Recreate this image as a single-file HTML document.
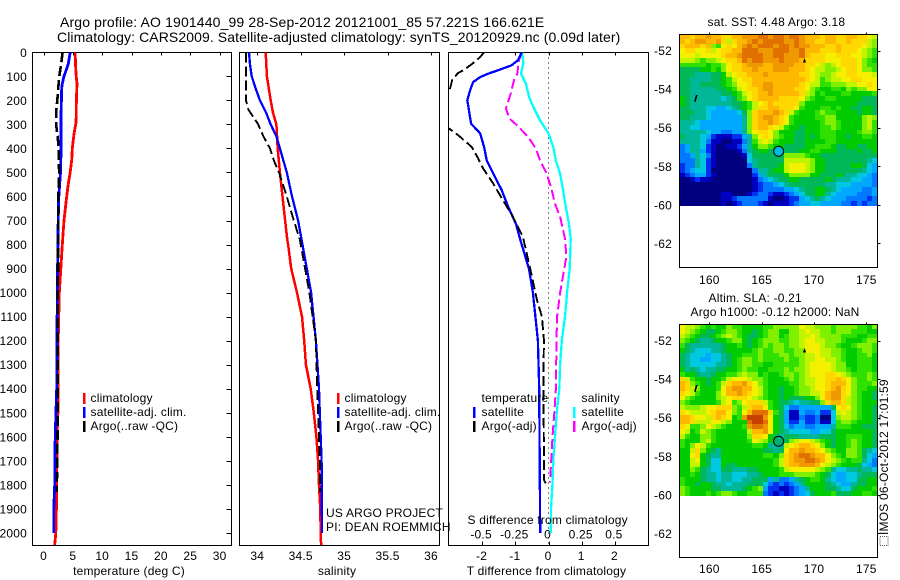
<!DOCTYPE html>
<html lang="en">
<head>
<meta charset="utf-8">
<title>Argo profile 1901440_99</title>
<style>
html,body{margin:0;padding:0;background:#fff;}
body{width:900px;height:580px;overflow:hidden;}
svg{display:block;font-family:"Liberation Sans",Arial,sans-serif;fill:#000;}
text{font-size:12px;letter-spacing:0.2px;}
.title{font-size:14px;letter-spacing:0.14px;}
.title2{font-size:14px;letter-spacing:0.09px;}
</style>
</head>
<body>
<svg id="figure" xmlns="http://www.w3.org/2000/svg" width="900" height="580" viewBox="0 0 900 580">
  <rect x="0" y="0" width="900" height="580" fill="#fff"/>
  <text class="title" x="60" y="27">Argo profile: AO 1901440_99 28-Sep-2012 20121001_85 57.221S 166.621E</text>
  <text class="title2" x="57" y="42">Climatology: CARS2009. Satellite-adjusted climatology: synTS_20120929.nc (0.09d later)</text>

  <g id="marks"></g>

  <text x="129" y="575" text-anchor="middle">temperature (deg C)</text>
  <text x="337" y="575" text-anchor="middle">salinity</text>
  <text x="546.5" y="575" text-anchor="middle">T difference from climatology</text>
  <text x="467.5" y="524">S difference from climatology</text>

  <g>
    <rect x="83" y="393" width="2.5" height="11" fill="#ff0000"/>
    <text x="90.5" y="402">climatology</text>
    <rect x="83" y="407" width="2.5" height="11" fill="#0000ff"/>
    <text x="90.5" y="416">satellite-adj. clim.</text>
    <rect x="83" y="421" width="2.5" height="11" fill="#000"/>
    <text x="90.5" y="430">Argo(..raw -QC)</text>
  </g>
  <g>
    <rect x="337" y="393" width="2.5" height="11" fill="#ff0000"/>
    <text x="344.5" y="402">climatology</text>
    <rect x="337" y="407" width="2.5" height="11" fill="#0000ff"/>
    <text x="344.5" y="416">satellite-adj. clim.</text>
    <rect x="337" y="421" width="2.5" height="11" fill="#000"/>
    <text x="344.5" y="430">Argo(..raw -QC)</text>
  </g>
  <g>
    <text x="481.5" y="402">temperature</text>
    <rect x="473" y="407" width="2.5" height="11" fill="#0000ff"/>
    <text x="481.5" y="416">satellite</text>
    <rect x="473" y="421" width="2.5" height="11" fill="#000"/>
    <text x="481.5" y="430">Argo(-adj)</text>
    <text x="581.5" y="402">salinity</text>
    <rect x="573" y="407" width="2.5" height="11" fill="#00ffff"/>
    <text x="581.5" y="416">satellite</text>
    <rect x="573" y="421" width="2.5" height="11" fill="#ff00ff"/>
    <text x="581.5" y="430">Argo(-adj)</text>
  </g>
  <text x="326" y="517">US ARGO PROJECT</text>
  <text x="326" y="531">PI: DEAN ROEMMICH</text>

  <text x="707.5" y="26">sat. SST: 4.48 Argo: 3.18</text>
  <text x="708.5" y="302">Altim. SLA: -0.21</text>
  <text x="690.5" y="316">Argo h1000: -0.12 h2000: NaN</text>

  <g fill="#777">
    <rect x="880" y="536.5" width="8" height="9" fill="none" stroke="#555" stroke-width="1" stroke-dasharray="1 1"/>
  </g>
  <text transform="translate(888,535) rotate(-90)">IMOS 06-Oct-2012 17:01:59</text>
</svg>

<script>
// ---------- axis tick values ----------
var depthTicks = [0,100,200,300,400,500,600,700,800,900,1000,1100,1200,1300,1400,1500,1600,1700,1800,1900,2000];
var tempTicks = [0,5,10,15,20,25,30];
var salinityTicks = [34,34.5,35,35.5,36];
var salinityTickLabels = ['34','34.5','35','35.5','36'];
var tDiffTicks = [-2,-1,0,1,2];
var tDiffTickLabels = ['-2','-1','0','1','2'];
var sDiffTicks = [-0.5,-0.25,0,0.25,0.5];
var sDiffTickLabels = ['-0.5','-0.25','0','0.25','0.5'];
var lonTicks = [160,165,170,175];
var latTicks = [-52,-54,-56,-58,-60,-62];

// ---------- temperature panel ----------
var tempClimDepth = [0,50,100,130,200,290,340,400,450,500,550,600,700,800,1000,1200,1400,1500,1600,1800,1900,2000,2050];
var tempClim = [5.4,5.45,5.57,5.7,5.6,5.55,5.2,4.9,4.8,4.55,4.2,3.95,3.5,3.2,2.7,2.5,2.45,2.45,2.3,2.25,2.2,2.1,1.9];
var tempSatDepth = [0,50,100,130,150,250,300,400,500,600,700,1000,1400,1600,1800,1900,2000];
var tempSat = [4.55,4.2,3.5,3.2,3.1,3.0,3.0,3.0,2.9,2.6,2.5,2.35,2.25,2.0,1.9,1.75,1.75];
var tempArgoDepth = [0,50,100,150,200,250,300,350,400,500,600,1000,1400,1700,1830];
var tempArgo = [3.25,3.0,2.7,2.5,2.35,2.15,2.15,2.4,2.6,2.65,2.5,2.45,2.45,2.35,2.25];

// ---------- salinity panel ----------
var salClimDepth = [0,100,200,250,300,400,500,600,700,780,800,900,1000,1100,1200,1300,1400,1500,1600,1700,1800,1900,2000,2050];
var salClim = [34.097,34.11,34.154,34.18,34.22,34.235,34.26,34.29,34.32,34.345,34.355,34.39,34.457,34.515,34.54,34.56,34.615,34.65,34.68,34.7,34.71,34.725,34.73,34.735];
var salSatDepth = [0,50,100,150,200,250,300,350,400,500,600,700,780,900,1000,1200,1400,1500,1600,1700,2000];
var salSat = [33.904,33.916,33.935,33.98,34.03,34.1,34.154,34.22,34.26,34.34,34.4,34.47,34.51,34.57,34.62,34.675,34.71,34.72,34.73,34.74,34.745];
var salArgoDepth = [0,100,200,240,280,300,350,400,450,500,600,700,780,1000,1200,1400,1600,1700,1830];
var salArgo = [33.87,33.87,33.87,33.9,33.975,34.01,34.07,34.146,34.19,34.25,34.34,34.42,34.49,34.6,34.675,34.69,34.71,34.72,34.72];

// ---------- difference panel ----------
var tDiffSatDepth = [0,33,54,75,89,103,124,158,200,248,297,337,394,449,505,574,644,714,775,900,1000,1200,1400,2000];
var tDiffSat = [-0.807,-0.92,-1.11,-1.52,-1.82,-2.06,-2.27,-2.36,-2.445,-2.39,-2.33,-2.06,-1.94,-1.86,-1.66,-1.41,-1.21,-0.98,-0.86,-0.59,-0.47,-0.32,-0.28,-0.25];
var tDiffArgoDepth = [0,20,45,70,87,115,158,200,280,320,345,394,441,483,545,616,685,768,900,1030,1100,1200,1300,1400,1700,1780,1794];
var tDiffArgo = [-1.94,-2.06,-2.27,-2.51,-2.73,-2.9,-2.98,-3.4,-3.3,-2.97,-2.72,-2.31,-2.12,-1.97,-1.67,-1.37,-1.07,-0.77,-0.55,-0.35,-0.2,-0.135,-0.15,-0.155,-0.135,-0.135,-0.08];
var sDiffSatDepth = [0,46,89,130,187,228,283,337,394,449,505,574,644,714,775,900,1000,1100,1200,1300,1400,1500,1600,1700,1800,1900,2000];
var sDiffSat = [-0.197,-0.19,-0.207,-0.17,-0.145,-0.114,-0.064,0,0.036,0.054,0.087,0.11,0.13,0.154,0.167,0.16,0.14,0.124,0.1,0.087,0.081,0.062,0.049,0.036,0.029,0.019,0.017];
var sDiffArgoDepth = [0,33,89,116,172,233,275,309,352,400,449,505,560,630,685,775,850,1000,1100,1200,1400,1500,1600,1700,1790];
var sDiffArgo = [-0.2,-0.222,-0.235,-0.26,-0.285,-0.32,-0.295,-0.227,-0.154,-0.096,-0.064,-0.014,0.019,0.049,0.087,0.124,0.135,0.087,0.065,0.06,0.056,0.044,0.03,0.02,0.011];

// ---------- map grids: one letter per cell, a = lowest level, s = highest level ----------
var sstRows = [
"oonoopoonn oopppqqpqq pqqpooonoo nnoonnml",
"onoppoopnl noopqpqqqq ppqpoonnoo nnonnnlk",
"nooonokjmn mopqpqqqpq qpqppooonn onnnnmlk",
"mnnmmnlmnn ooqqqpppqq qppqooonnn onnnmlkj",
"mmmlmmmmno opqqqqppqq pppqonnnmm nnnmmlkj",
"lllkjkklmn noqpqqpppq ppponnnnmm mnnnmkji",
"jjjjjijjkm nnopppoopp ppoonnmlkl mnnnmkjj",
"hhhhiijikm nnoopooopp pooonmllkk lmnnmkkj",
"hhhggghhil mnnooopooo ooonnmlkkl mmnnmmml",
"hhgggghhij lmnnoooooo oooonmljkl lmmnnmmm",
"hhgghhhhij kmmnooppoo ooonmlljjk kkllmmnm",
"hhggggghhi jlmnnoppoo oonnmkjiij jikjkkmm",
"hhgggggghh ijlmnoopoo ooonlkijii ijjiiiij",
"ihggggggfg hjkmnoooon nnnmkjiijj iiiiihhh",
"ihgggggggg hhijlmnonn nnnkiiiiii iiiihhhh",
"hhgggffeef ghijlnnoon nnmjiiijji jiihhiih",
"hhhggfeeee efhknooopo nljiiijkjj iiiihiih",
"hhgggfeeee eegknoppon mjiiiijjkk iiiiiklk",
"gggfeeeeee eegknoopon mjiiiiijkk jiiiiklj",
"ggffeeeeee eegknoonml jiihiiijjk jiiiiklj",
"gggggfeedd eegkmnnmki iihhiiijjj iiiijkkj",
"hgggfecbbb ccegkmnmkj iihhihijjj iihiijji",
"ggggfdbbaa bbdgjlmlji iihhiiiijj iiiiiiii",
"deggfcbaab bcegikkjii hhhhiijjji hhiihhii",
"deggecbaaa abdghiihhh hhhiijjiii hhhhihhi",
"ddegfdbaaa aabfhhhhhh kkkkjiihhh hhhhhhhh",
"dddgfcbaaa aaafghhhhh lllllkiihh hhhhhhgf",
"cddgfcbaaa aaadghhhhi lmmmlkiihh hhhiihfe",
"cdeffcaaaa aaaadgghii lmmmlkiihh hhhhhgfe",
"bcdeecbaaa aaaaceghhh ikkkkiihhh ihggffed",
"aabcbbaaaa aaaabdefgh hiihhhhhih gggffeed",
"aaaaaaaaaa aaaabcddef ghhhhhhhgg fffeeeed",
"aaaaaaaaaa aaaabcdddd eefghhiihg feeeedde",
"aaaaaaaabb aaabcddcbb cdefhhiigf eeeeddde",
"aaaaaaaabb cddddddbaa bccefghgfe eeddddcd",
"aaaaaaaaba bcdddcbabb bcdeeffeee eddcdcdd"
];
var slaRows = [
"mllkjijiik jjiiiijjkk kkkmllkkkj kkkkjjik",
"mlkjihhijk kjiihijkki ikklmllkkj kkkjjjii",
"lkjihhijkl kjihhijkki jkkllmlkkk kjjjiijj",
"kjihgghiij kkihijkkkj jkklmmllkk kjiiijkk",
"jhgggggghi ijihijkjkk jkklmmmlkk jiijkkkj",
"ihgfffggh i iiiijkjjkk jjkkmmmllk kjiijkkj",
"hgfffeffgh iijjjkjjjk kjkkllmllk kjiijjki",
"hgffeeffgh ijkkjkjjjj kjjkllmmll kjiijjji",
"hgfffffggh ijkkjjiijj jjjklmmmml kkiijjji",
"ighgfgghhi ijkjjiijjj kjkklmmmml kkjijjji",
"jiihgghiij jklkkijiij kkjklmmmnn mlkjjjkj",
"nljiihiijl mmmlkkjiii jkjkllmmnn onmkjjkj",
"onkjihijln oopnmkjiii ijjkllmmno oomkjjjk",
"onlkiiijmo ppoomljiih iijkklmmno pnmkjjii",
"nmljiiikmo oponmljiih iijkkllmop pnmkjiih",
"mkjiiiiklm nnnmlkjiih ihhhiikmop pnlkjiih",
"kjiiiiijlm jkmnnnljih hgfgghhkno onlkjiii",
"lkkklmmnnn kjlnoomjih fddeeeeeeh mnmkjiih",
"nmlllmnoom kjmoqqqnjh ebbeddeccf lmlkjiih",
"oonmmlnonm ijprrrpmih ebbdccdaaf kllkjiih",
"oonlllmmlk iiiqrrqmih ecceccdbbf jkkjiiih",
"nmjjkmlkji iijpqqpmih fdeeddeeeg jjjiihhh",
"mlijlkjiii iiiloopmih gffffeeffh iiiiiiih",
"ljiikkjiii iiiknnmihg hhhgggghhh iijjjiih",
"jiiikljiii iiijmlkihg hklmmlkjih iijkjiih",
"jikmljiiii iiiijjiggg lmnoonmkih iijkjiih",
"iilnkihgii iiiiiihhgh moopoonmkj iikkjhgf",
"iimnihggii iiiiiijjik nopqqpoomk jikkjhfe",
"iilmihffii iiiiiiiijl noppqqpoml kjijjgfd",
"iillihffih hiiiiiiijl noopppomlk jiiihfed",
"iikjhgffhh ggghhiiiij lmmmmmlkjg ffgghggf",
"iijihggfgg fffgghiiij jjkkkkjihf eeffghhh",
"jiiihggfgg ffgghhhegd deghijjigf eeffhhii",
"jiihiihggf ggghhhfdcd cdegiiiihg feeghhii",
"kjiiiihhgg gghijkeccb bcdegiiihh gffhiiij",
"kjiiijijkk jiijjjdcbc bcdefhiiij hhhiijji"
];
var levelScale = 'abcdefghijklmnopqrs';
var levelColors = ['#000080','#0000c0','#0030f0','#0078ff','#00a8ff','#00c8e0','#00b898','#00b858','#00cc00','#30e000','#80f000','#c0f400','#f4f000','#ffd800','#ffb800','#f09800','#e07000','#c84000','#a02000'];

// ---------- coast fragments and float position ----------
var floatLon = 166.621;
var floatLat = -57.221;
var islandLon = [168.95,169.1,169.25];
var islandLat = [-52.6,-52.38,-52.6];
var reefLon = [158.8,158.62];
var reefLat = [-54.3,-54.65];

// ---------- svg helpers ----------
var NS = 'http://www.w3.org/2000/svg';
var root = document.getElementById('marks');
function make(tag, attrs, parent) {
  var node = document.createElementNS(NS, tag);
  for (var key in attrs) { node.setAttribute(key, attrs[key]); }
  (parent || root).appendChild(node);
  return node;
}

// ---------- axis functions ----------
var PLOT_TOP = 52.5, PLOT_BOTTOM = 545.5;
function yDepth(d) { return 52.3 + 0.2403 * d; }
function xTemp(t) { return 43.5 + 5.87 * t; }
function xSal(s) { return 257.3 + 86.85 * (s - 34); }
function xTDiff(t) { return 548.5 + 33.2 * t; }
function xSDiff(s) { return 548.5 + 132.8 * s; }
function xLon(lon) { return 709.3 + 10.47 * (lon - 160); }
function yLat(lat, offset) { return 50.7 + offset + 19.26 * (-52 - lat); }

function profile(name, values, depths, xFn, color, width, dashed, clipId) {
  var pts = [];
  for (var i = 0; i < values.length; i++) {
    pts.push(xFn(values[i]).toFixed(1) + ',' + yDepth(depths[i]).toFixed(1));
  }
  var el = make('polyline', {
    points: pts.join(' '), fill: 'none', stroke: color,
    'stroke-width': width,
    'stroke-dasharray': dashed ? '10 4' : 'none',
    'shape-rendering': 'crispEdges',
    'clip-path': 'url(#' + clipId + ')'
  });
  
  
}

function panelFrame(name, x, w, clipId) {
  var cp = make('clipPath', { id: clipId });
  make('rect', { x: x, y: PLOT_TOP, width: w, height: PLOT_BOTTOM - PLOT_TOP }, cp);
  var el = make('rect', { x: x, y: PLOT_TOP, width: w, height: PLOT_BOTTOM - PLOT_TOP, fill: 'none', stroke: '#000', 'stroke-width': 1, 'shape-rendering': 'crispEdges' });
  
  
}

function tick(name, x1, y1, x2, y2) {
  var el = make('line', { x1: x1, y1: y1, x2: x2, y2: y2, stroke: '#000', 'stroke-width': 1, 'shape-rendering': 'crispEdges' });
  
  
}

function label(name, x, y, str, anchor) {
  var el = make('text', { x: x, y: y, 'text-anchor': anchor || 'middle' });
  el.textContent = str;
  
  
}

// ---------- profile panels ----------
panelFrame('temperature-panel-frame', 32.5, 199, 'clip-temp');
panelFrame('salinity-panel-frame', 239.5, 200, 'clip-sal');
panelFrame('difference-panel-frame', 448.5, 200, 'clip-diff');

depthTicks.forEach(function (d) {
  var y = Math.round(yDepth(d)) + 0.5;
  label('depth-tick-label', 27, yDepth(d) + 4.5, String(d), 'end');
  if (d > 0) { tick('depth-tick', 226.5, y, 231.5, y); }
});
tempTicks.forEach(function (t) {
  var x = Math.round(xTemp(t)) + 0.5;
  tick('temperature-top-tick', x, 52.5, x, 55.5);
  label('temperature-tick-label', xTemp(t), 560, String(t));
});
salinityTicks.forEach(function (s, i) {
  var x = Math.round(xSal(s)) + 0.5;
  tick('salinity-top-tick', x, 52.5, x, 55.5);
  label('salinity-tick-label', xSal(s), 560, salinityTickLabels[i]);
});
tDiffTicks.forEach(function (t, i) {
  var x = Math.round(xTDiff(t)) + 0.5;
  tick('t-difference-top-tick', x, 52.5, x, 55.5);
  tick('t-difference-bottom-tick', x, 541.5, x, 545.5);
  label('t-difference-tick-label', xTDiff(t) - 0.5, 560, tDiffTickLabels[i]);
});
sDiffTicks.forEach(function (s, i) {
  label('s-difference-tick-label', xSDiff(s) - 1, 538.5, sDiffTickLabels[i]);
});

var zeroLine = make('line', { x1: 548.5, y1: 52.5, x2: 548.5, y2: 545, stroke: '#000', 'stroke-width': 1, 'stroke-dasharray': '1 4', 'shape-rendering': 'crispEdges' });



profile('temperature-climatology-line', tempClim, tempClimDepth, xTemp, '#ff0000', 2.8, false, 'clip-temp');
profile('temperature-satellite-line', tempSat, tempSatDepth, xTemp, '#0000ff', 2.8, false, 'clip-temp');
profile('temperature-argo-line', tempArgo, tempArgoDepth, xTemp, '#000000', 2.6, true, 'clip-temp');

profile('salinity-climatology-line', salClim, salClimDepth, xSal, '#ff0000', 2.5, false, 'clip-sal');
profile('salinity-satellite-line', salSat, salSatDepth, xSal, '#0000ff', 2.3, false, 'clip-sal');
profile('salinity-argo-line', salArgo, salArgoDepth, xSal, '#000000', 1.9, true, 'clip-sal');

profile('s-difference-satellite-line', sDiffSat, sDiffSatDepth, xSDiff, '#00ffff', 2.3, false, 'clip-diff');
profile('s-difference-argo-line', sDiffArgo, sDiffArgoDepth, xSDiff, '#ff00ff', 2, true, 'clip-diff');
profile('t-difference-satellite-line', tDiffSat, tDiffSatDepth, xTDiff, '#0000ff', 2.3, false, 'clip-diff');
profile('t-difference-argo-line', tDiffArgo, tDiffArgoDepth, xTDiff, '#000000', 1.9, true, 'clip-diff');

// ---------- maps ----------
function drawMap(prefix, rows, offset, floatColor) {
  var left = 679.5, right = 877.5, top = 34 + offset, dataBottom = 206 + offset, bottom = 267 + offset;
  var clean = rows.map(function (r) { return r.replace(/ /g, ''); });
  var cellH = (dataBottom - top) / clean.length;
  clean.forEach(function (row, r) {
    var cellW = (right - left) / row.length;
    for (var c = 0; c < row.length; c++) {
      var level = levelScale.indexOf(row.charAt(c));
      var x0 = Math.round(left + c * cellW), x1 = Math.round(left + (c + 1) * cellW);
      var y0 = Math.round(top + r * cellH), y1 = Math.round(top + (r + 1) * cellH);
      var cell = make('rect', { x: x0, y: y0, width: x1 - x0, height: y1 - y0, fill: levelColors[level], 'shape-rendering': 'crispEdges' });
      
      
    }
  });
  var frame = make('rect', { x: left, y: top + 0.5, width: right - left, height: bottom - top, fill: 'none', stroke: '#000', 'stroke-width': 1, 'shape-rendering': 'crispEdges' });
  
  

  lonTicks.forEach(function (lon) {
    var x = Math.round(xLon(lon)) + 0.5;
    tick(prefix + '-longitude-tick', x, top - 1.5, x, top + 0.5);
    label(prefix + '-longitude-label', xLon(lon), 284 + offset - (offset ? 1 : 0), String(lon));
  });
  latTicks.forEach(function (lat) {
    var y = Math.round(yLat(lat, offset)) + 0.5;
    tick(prefix + '-latitude-tick', right, y, right + 3, y);
    label(prefix + '-latitude-label', 672, yLat(lat, offset) + 4.5, String(lat), 'end');
  });

  var islandPts = islandLon.map(function (lon, i) { return xLon(lon).toFixed(1) + ',' + yLat(islandLat[i], offset).toFixed(1); }).join(' ');
  var island = make('polygon', { points: islandPts, fill: '#000', 'shape-rendering': 'crispEdges' });
  
  

  var reefPts = reefLon.map(function (lon, i) { return xLon(lon).toFixed(1) + ',' + yLat(reefLat[i], offset).toFixed(1); }).join(' ');
  var reef = make('polyline', { points: reefPts, fill: 'none', stroke: '#000', 'stroke-width': 1.6, 'shape-rendering': 'crispEdges' });
  
  

  var dot = make('circle', { cx: xLon(floatLon), cy: yLat(floatLat, offset), r: 5, fill: floatColor, stroke: '#000', 'stroke-width': 1 });
  
  
}

drawMap('sst', sstRows, 0, '#00b8e8');
drawMap('sla', slaRows, 290, '#00b070');
</script>
</body>
</html>
